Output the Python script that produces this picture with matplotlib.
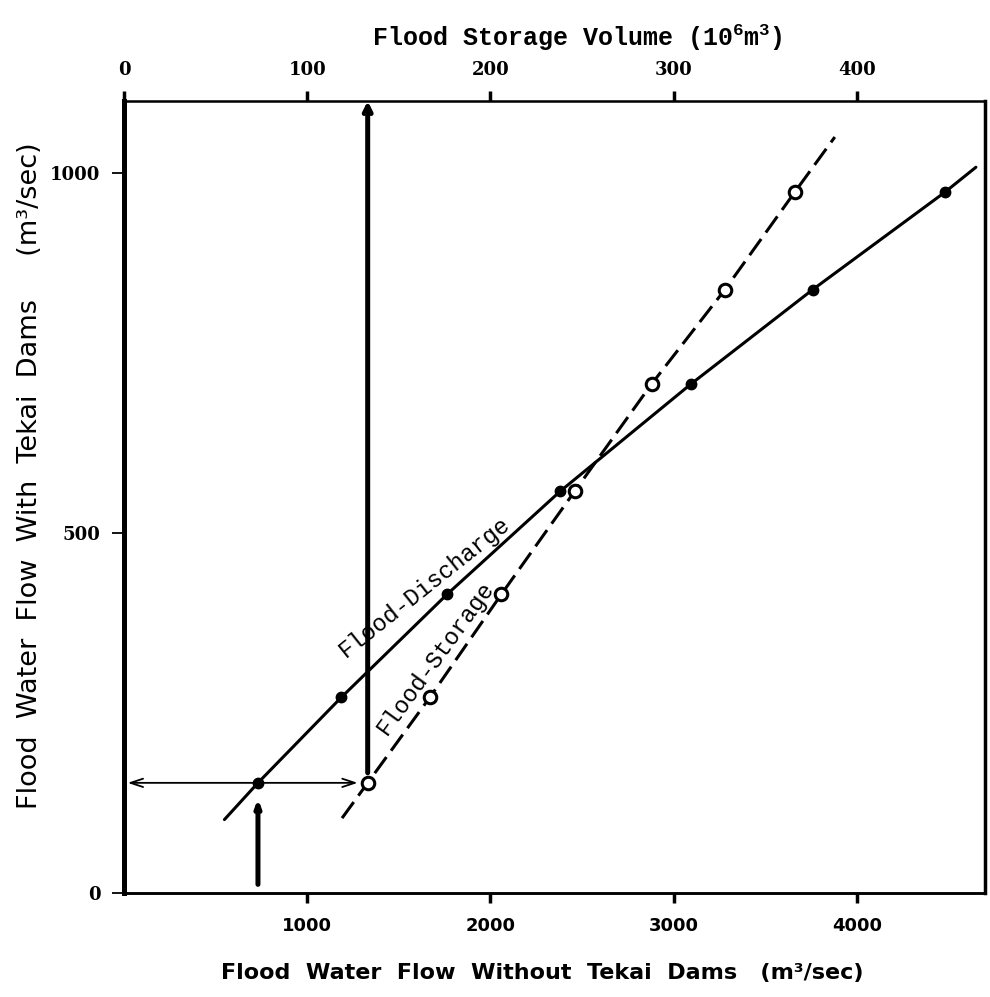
import matplotlib
matplotlib.use("Agg")
import matplotlib.pyplot as plt

# flow with dams (y) shared by both curves, m3/sec
flow_with = [153, 272, 415, 558, 707, 838, 973]
# flow without dams for the discharge curve, m3/sec
flow_without = [731, 1187, 1764, 2381, 3095, 3759, 4479]
# storage volume for the storage curve, 10^6 m3
storage_vol = [133, 167, 206, 246, 288, 328, 366]

# where the drawn lines run past the first / last point
disch_ends_x = [548, 4650]
disch_ends_y = [102, 1008]
stor_ends_x = [119, 388]
stor_ends_y = [104, 1050]

# worked example
ex_flow_without = 731
ex_flow_with = 153
ex_storage = 133

xticks_bottom = [1000, 2000, 3000, 4000]
xticks_top = [0, 100, 200, 300, 400]
yticks = [0, 500, 1000]

plt.rcParams["mathtext.fontset"] = "custom"
plt.rcParams["mathtext.rm"] = "Liberation Mono:bold"
plt.rcParams["mathtext.bf"] = "Liberation Mono:bold"

fig = plt.figure(figsize=(9.9, 9.97), dpi=100)
ax = fig.add_axes([0.1253, 0.1043, 0.8697, 0.7944])
ax.set_xlim(0, 4700)
ax.set_ylim(0, 1100)
ax2 = ax.twiny()
ax2.set_xlim(0, 470)

# discharge curve: solid line, filled dots
dx = [disch_ends_x[0]] + flow_without + [disch_ends_x[1]]
dy = [disch_ends_y[0]] + flow_with + [disch_ends_y[1]]
ax.plot(dx, dy, color="black", lw=2.2, solid_capstyle="round")
ax.plot(flow_without, flow_with, "o", color="black", ms=7.5)

# storage curve: dashed line, open circles (top axis)
sx = [stor_ends_x[0]] + storage_vol + [stor_ends_x[1]]
sy = [stor_ends_y[0]] + flow_with + [stor_ends_y[1]]
ax2.plot(sx, sy, color="black", lw=2.2, dashes=(6.5, 2.6))
ax2.plot(storage_vol, flow_with, "o", color="black", mfc="white", mew=2.2, ms=9)

# example arrows
ax.annotate("", xy=(ex_flow_without, ex_flow_with - 22), xytext=(ex_flow_without, 12),
            arrowprops=dict(arrowstyle="-|>,head_length=0.4,head_width=0.15", lw=3.6,
                            color="black", shrinkA=0, shrinkB=0))
ax.annotate("", xy=(20, ex_flow_with), xytext=(ex_flow_without, ex_flow_with),
            arrowprops=dict(arrowstyle="->,head_length=0.9,head_width=0.3", lw=1.3,
                            color="black", shrinkA=0, shrinkB=0))
ax.annotate("", xy=(ex_storage * 10 - 55, ex_flow_with), xytext=(ex_flow_without, ex_flow_with),
            arrowprops=dict(arrowstyle="->,head_length=0.9,head_width=0.3", lw=1.3,
                            color="black", shrinkA=0, shrinkB=0))
ax2.annotate("", xy=(ex_storage, 1100), xytext=(ex_storage, ex_flow_with + 14),
             arrowprops=dict(arrowstyle="->,head_length=0.5,head_width=0.25", lw=3.6,
                             color="black", shrinkA=0, shrinkB=0))

# curve labels
ax.text(1640, 425, "Flood-Discharge", rotation=38.5, ha="center", va="center",
        family="Liberation Mono", fontsize=17)
ax.text(1700, 326, "Flood-Storage", rotation=54, ha="center", va="center",
        family="Liberation Mono", fontsize=17)

# axes styling
for a in (ax, ax2):
    for s in a.spines.values():
        s.set_color("black")
ax.spines["left"].set_linewidth(3.6)
ax.spines["bottom"].set_linewidth(1.8)
ax2.spines["top"].set_linewidth(1.8)
ax2.spines["right"].set_linewidth(2.5)
ax2.spines["left"].set_linewidth(3.6)
ax2.spines["bottom"].set_linewidth(1.8)

ax.set_xticks(xticks_bottom)
ax.set_xticklabels([str(v) for v in xticks_bottom], family="DejaVu Sans",
                   fontweight="bold", fontsize=13)
ax.tick_params(axis="x", direction="out", length=7, width=2.5, pad=10)
ax.set_yticks(yticks)
ax.set_yticklabels([str(v) for v in yticks], family="DejaVu Serif",
                   fontweight="bold", fontsize=13)
ax.tick_params(axis="y", direction="out", length=9, width=1.3, pad=8)

ax2.set_xticks(xticks_top)
ax2.set_xticklabels([str(v) for v in xticks_top], family="DejaVu Serif",
                    fontweight="bold", fontsize=13)
ax2.tick_params(axis="x", direction="out", length=7, width=2.5, pad=9)

ax.set_xlabel("Flood  Water  Flow  Without  Tekai  Dams   (m³/sec)",
              family="DejaVu Sans", fontweight="bold", fontsize=16)
ax.xaxis.set_label_coords(0.486, -0.088)
ax.set_ylabel("Flood  Water  Flow  With  Tekai  Dams     (m³/sec)",
              family="DejaVu Sans", fontsize=19.5)
ax.yaxis.set_label_coords(-0.094, 0.527)
fig.text(577 / 990, 1 - 38 / 997, r"Flood Storage Volume (10$^{6}$m$^{3}$)",
         ha="center", va="center", family="Liberation Mono", fontweight="bold",
         fontsize=18)

fig.savefig("out.png", dpi=100, facecolor="white")
